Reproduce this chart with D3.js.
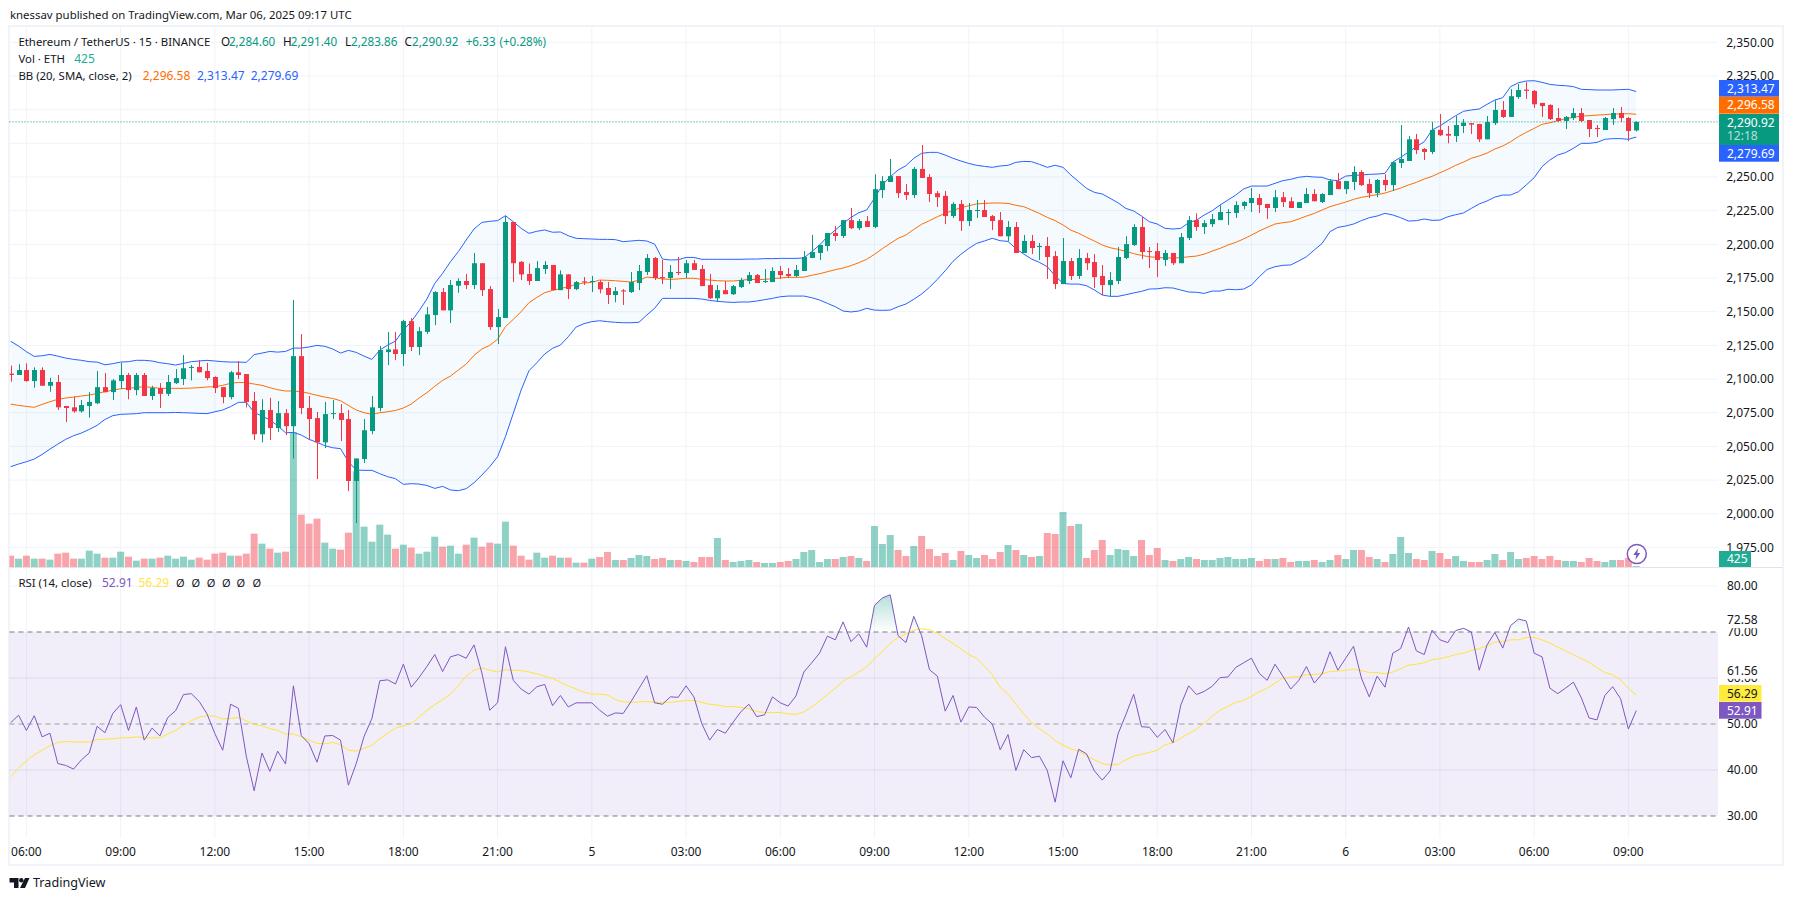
<!DOCTYPE html>
<html>
<head>
<meta charset="utf-8">
<style>
  html, body { margin: 0; padding: 0; background: #fff; }
  svg { display: block; }
  text { font-family: "Noto Sans", sans-serif; font-size: 12px; fill: #131722; }
</style>
</head>
<body>
<div id="chart"></div>
<script src="https://cdn.jsdelivr.net/npm/d3@7"></script>
<script>
// ---- DATA (15 minute bars) ----
const opens = [
  2104,2103,2106.7,2098.5,2106.7,2095,2097.8,2080,2079,2076,
  2080,2082,2094,2090.3,2098.5,2103,2091.8,2103,2087.4,2093.3,
  2089,2097,2100,2108.7,2109,2106,2101.5,2094,2086.6,2105,
  2103.7,2083.7,2059,2077,2063.6,2074.7,2065,2117,2078.5,2071,
  2053,2074,2074.7,2070.3,2024.3,2040.6,2061.4,2078.5,2120,2122,
  2118.6,2143,2123.8,2135,2147.5,2164.6,2151,2169.3,2172.8,2169.8,
  2186,2166.8,2138.6,2145.3,2216.6,2187,2178,2172.8,2181.7,2184.7,
  2166,2177.7,2166.8,2172.5,2172,2172,2167.6,2162.4,2165.8,2164.6,
  2171.3,2179.5,2189.9,2175.7,2175,2179.5,2178.7,2186,2181.7,2169.8,
  2160,2166,2163,2168.3,2172.8,2177.2,2172,2172,2180.2,2178,
  2176.5,2180.2,2189.9,2193.6,2198.8,2208.4,2206.2,2218,2212,2217.3,
  2212.9,2240.3,2246.3,2250.7,2238.9,2236.6,2256,2250,2238,2236,
  2221,2230,2217.3,2224.8,2225.5,2221,2218,2206,2212.9,2193.6,
  2202.5,2198,2198.8,2191.3,2170.5,2187.6,2176.5,2189.9,2186.9,2176.5,
  2169.8,2172.8,2189.9,2199.5,2212.9,2195,2195,2188.4,2193.6,2186,
  2204.7,2218,2212.9,2215,2218,2223.3,2223.3,2228.5,2230.7,2234.4,
  2230,2227,2235,2232,2227,2230.7,2237.4,2231.4,2236.6,2247,
  2241,2246.3,2253.7,2244.8,2238,2247.8,2244,2260.4,2261.9,2278,
  2270.8,2268.6,2285,2282,2280.4,2287.9,2290,2289.4,2278,2290,
  2299.8,2294.6,2309.4,2314.9,2313.9,2305,2303.5,2293.8,2291.6,2293.8,
  2297.5,2292.3,2286.4,2284.9,2293,2297.5,2293.8,2284.6
];
const closes = [
  2103,2106.7,2098.5,2106.7,2095,2097.8,2079,2078.5,2076,2080.7,
  2083,2094,2090.3,2099,2103,2091.8,2103,2087.4,2093.3,2089,
  2097.8,2100.7,2108,2109,2105,2100.7,2093.3,2086.6,2105,2103,
  2083,2059,2077,2063.6,2074.7,2065,2117,2078.5,2070.3,2053,
  2074,2074.7,2069.6,2024.3,2041,2062,2079,2121.5,2122,2118.6,
  2143,2123.8,2135.6,2148,2164.6,2151,2169.8,2172.8,2169.8,2186,
  2166,2138.6,2146,2216.6,2186,2177.7,2172.8,2182.4,2184.7,2166,
  2177.7,2166.8,2172,2171.8,2172.8,2166.6,2162.4,2165.3,2165,2172,
  2180.2,2189.9,2175,2174.8,2179.5,2178.7,2186,2181,2169,2160,
  2166,2163,2169,2173.5,2177.2,2171.3,2172.8,2180.2,2177.2,2176.5,
  2181,2190.6,2194.3,2199.5,2208.4,2206.2,2218,2212,2217.3,2212.9,
  2241,2247,2250.7,2238,2236.6,2256,2249.3,2237.4,2235,2221,
  2230,2217.3,2225.5,2225.5,2220.3,2217.3,2206,2212.9,2193.6,2202.5,
  2197.3,2198.8,2190.6,2170.5,2187.6,2176.5,2189.9,2186,2175.7,2169.8,
  2173.5,2190.6,2200.2,2212.9,2194.3,2194.3,2188.4,2193.6,2186,2205.4,
  2218,2212.9,2215.8,2218.8,2224,2224,2229.2,2231.4,2234.4,2229.2,
  2227,2235,2231.4,2227,2231.4,2237.4,2232,2237.4,2247,2241,
  2247,2253.7,2244,2238,2247.8,2244,2261,2263.4,2278,2270,
  2268.6,2285,2281,2280.7,2288.6,2290.3,2288.9,2278,2290.8,2299.8,
  2294.6,2310,2314.6,2314,2304,2302.7,2293,2291.6,2294.6,2297.5,
  2291.6,2285.6,2285.6,2293.8,2297.5,2293.8,2284.2,2290.92
];
const highs = [
  2110,2111,2111.6,2108.7,2108.7,2101,2103,2080,2087,2084.4,
  2090.3,2106,2104.5,2100,2112,2104.5,2104.5,2104.5,2095,2097,
  2103,2107.4,2117.8,2110.4,2114,2112,2102,2094,2106,2113.4,
  2103.7,2090.3,2085,2086,2083.7,2077.7,2158.7,2133.4,2087.4,2075.5,
  2083,2084.4,2081.4,2077,2041,2070.3,2087.4,2124.5,2135,2135,
  2144,2145.3,2138.6,2153.5,2165.3,2167.6,2173.5,2174.8,2178,2193.6,
  2186,2169,2152,2221,2216.6,2187.6,2185.8,2187.6,2187.6,2184.7,
  2180.7,2178,2172.8,2175.7,2176.5,2173.5,2172,2168.3,2166.8,2179.5,
  2184.7,2192.8,2190.6,2188.4,2184.7,2190.6,2188.4,2188.4,2184.7,2178,
  2169.8,2172.8,2169.8,2175,2179.5,2178,2181.7,2183,2184,2182.4,
  2184.7,2195,2207,2199.5,2208.4,2213.6,2218,2227,2218.8,2221,
  2252,2250.7,2263.4,2250.7,2244.8,2257.4,2273.8,2252.2,2239.6,2239.6,
  2231.4,2233,2230.7,2233,2233,2221.8,2224,2217.3,2216.6,2207,
  2207,2201,2205.4,2195,2204.7,2189.9,2196.5,2193.6,2192.8,2184.7,
  2179.5,2198,2206,2215,2220.3,2198,2201,2195.8,2193.6,2208.4,
  2221,2223,2218,2222.5,2229,2226.2,2232,2232.2,2241.8,2237.4,
  2230,2240.3,2238.9,2235,2231.4,2241.8,2241,2238,2248.5,2253,
  2247,2258,2255,2248.5,2248.5,2252,2261,2288.6,2280.4,2282,
  2271.5,2290.8,2296.8,2287.9,2295.3,2293,2290,2289.4,2295.3,2307,
  2306.4,2315.3,2319,2320.5,2314.6,2305,2304,2301.2,2295.3,2301.2,
  2301.2,2292.3,2288.6,2294.6,2301.2,2302,2294.6,2291.4
];
const lows = [
  2098,2103,2098,2093.6,2095,2090.6,2077,2068,2075,2075,
  2071.3,2081.4,2090,2084.4,2092.6,2085,2088,2087.4,2084.4,2078.5,
  2087.4,2096.3,2095.5,2099,2105,2099,2089.6,2082,2085,2100,
  2079,2054.7,2053,2054.7,2060.6,2058.4,2041,2074,2054.7,2025.7,
  2048.8,2070.3,2054,2016.8,1993,2037.6,2059,2076,2110.4,2114,
  2109.7,2120.8,2117.8,2133.4,2140,2151,2141.6,2164,2166.8,2166.8,
  2161.6,2136.4,2126,2145.3,2172,2173.5,2169.8,2172.8,2178,2166,
  2166,2159.4,2166,2169.8,2164.6,2163.6,2155.7,2157,2155,2163.9,
  2166,2177.2,2173.5,2170.5,2166.8,2177.2,2175,2181,2169,2159.4,
  2157.2,2163,2162.4,2167.6,2170.5,2171.3,2171.3,2172,2174.3,2175,
  2175.7,2180.2,2189.9,2188.4,2195,2202.5,2204.7,2211.4,2210.6,2212.9,
  2212,2234.4,2246.3,2234.4,2233,2234.4,2249.3,2231.4,2227.7,2215,
  2219.6,2210,2213.6,2219.6,2220.3,2210.6,2206,2202.5,2193.6,2193.6,
  2192.8,2188.4,2174.3,2166.8,2170.5,2173.5,2174.3,2181,2167.6,2162.4,
  2161.6,2170.5,2189,2198.8,2189,2182.4,2175.7,2184,2184.7,2186,
  2203.2,2210,2207.7,2212.9,2218,2214.4,2219.6,2226,2224,2223.3,
  2218.8,2224,2227.7,2227,2227,2230.7,2232,2230.7,2236.6,2241,
  2237.4,2240.3,2243.3,2234.4,2235,2239.6,2239.6,2256.7,2261.9,2267,
  2262.6,2267,2280.4,2275,2276,2282.7,2282,2276,2278,2288.6,
  2293.8,2294.6,2308,2308,2301.2,2294.6,2292.3,2290.8,2285.6,2292.3,
  2290.8,2279.7,2279.7,2284.9,2288.6,2290.8,2276.7,2283.86
];
const volumes = [
  4790,3530,4790,3530,3530,3100,5640,6060,3530,3530,
  6910,5640,3950,3950,6490,4370,2680,3530,3530,3950,
  4790,3530,4370,3100,3950,3100,5640,6060,4790,4790,
  5640,14100,9870,7760,6060,6490,57100,22140,18330,20450,
  10290,7760,7330,14520,40470,17060,10720,17910,13680,7760,
  9450,8180,5640,6490,12830,8600,9020,5640,9450,12410,
  8600,10290,9870,19180,9020,4790,3100,6060,3950,4790,
  3950,3950,1830,1830,3530,4230,6350,2960,2960,3810,
  5080,4650,3380,3810,2960,2960,2540,2110,4230,4230,
  12270,2960,2110,2540,2960,2110,1700,1700,2110,2540,
  3380,6350,7190,2110,3380,3380,4230,4650,3810,2540,
  17340,9730,13540,7190,4650,8880,13110,7610,4650,5920,
  2960,6770,5080,3810,5080,3380,6350,9310,7190,5080,
  4230,4650,14380,13960,23270,17340,18190,3810,7190,11420,
  5080,7610,7190,4650,11420,5080,8040,2960,2540,3380,
  4230,3380,2960,2960,3810,4230,3380,3380,3810,2540,
  3380,3380,3810,2110,2540,2540,2960,2110,2960,5080,
  3380,7190,7190,4230,3380,2110,5500,12690,5920,3380,
  2960,6770,5920,3380,4650,2540,2110,2110,2960,5500,
  2960,6350,3380,3810,4650,3380,4650,2960,2540,2540,
  2110,3810,2540,2110,2960,2960,3810,425
];
const bbUpper = [
  2128,2124.5,2120.3,2116.8,2117.3,2118.3,2117,2115.6,2114.6,2113.9,
  2112.9,2112.6,2110.6,2111.4,2112.6,2112.9,2113.9,2113.9,2113.4,2112.1,
  2111.4,2110.4,2111.6,2112.9,2113.4,2113.9,2113.4,2112.9,2112.6,2112.6,
  2112.4,2118.1,2119.3,2120.5,2120,2120.5,2123,2123,2123.8,2125,
  2124.3,2122.3,2119.3,2121.3,2119.8,2117,2114.6,2121.5,2125.2,2128.2,
  2136.4,2142.6,2150.7,2159.4,2171,2178.5,2187.1,2194.6,2203.2,2211.4,
  2216.3,2217.1,2217.6,2221.3,2216.8,2211.9,2208.2,2209.7,2210.7,2209,
  2209.2,2206.4,2204.5,2204.2,2204,2203.7,2203.7,2203.5,2202,2202.5,
  2203,2202.5,2200.2,2189.1,2188.4,2188.6,2190.3,2190.3,2188.9,2188.9,
  2188.9,2188.9,2188.9,2188.9,2189.1,2189.1,2189.4,2189.4,2189.6,2189.6,
  2189.6,2189.9,2194.6,2199.5,2205.7,2210.6,2215.6,2220,2223.5,2225.5,
  2234.2,2244.1,2250.2,2255.2,2258.4,2263.9,2267.6,2268.3,2268.3,2266.3,
  2263.9,2261.9,2260.1,2258.7,2257.9,2257.2,2258.2,2258.7,2260.9,2261.6,
  2261.4,2259.4,2257.2,2258.7,2257.2,2251.5,2246.5,2241.6,2238.6,2237.4,
  2234.2,2230.9,2226.7,2224.8,2221,2216.8,2215.1,2211.9,2211.4,2211.9,
  2216.1,2218,2221.8,2225,2229.2,2232.9,2236.6,2241.1,2243.3,2243.3,
  2243.3,2245.3,2247.3,2248.3,2249.8,2250.5,2250,2249.8,2247.8,2247.3,
  2250.7,2251.2,2251.5,2252,2252.2,2252.7,2261.1,2264.6,2268.6,2272.5,
  2276.2,2284.9,2287.9,2291.8,2295.5,2298.8,2299.8,2300.5,2304,2307.2,
  2308.9,2317.1,2320,2321.3,2321.5,2320.3,2318.8,2318.1,2317.8,2317.1,
  2315.1,2314.9,2314.6,2314.6,2314.6,2314.9,2315.1,2313.47
];
const bbMiddle = [
  2081.4,2080.4,2079.7,2079,2081.2,2083.2,2084.9,2085.9,2086.6,2087.4,
  2088.1,2089.4,2090.6,2091.8,2092.8,2093.1,2093.8,2094.3,2093.8,2093.1,
  2093.1,2093.1,2093.1,2093.3,2093.6,2094.1,2094.3,2095.3,2096.8,2097.5,
  2097.3,2096.3,2095.3,2093.6,2092.1,2091.1,2091.1,2090.6,2089.4,2087.9,
  2086.6,2085.6,2083.9,2080.4,2077,2075,2073.8,2075,2075.7,2076.7,
  2078.5,2081.4,2085.9,2089.9,2094.6,2099,2102.2,2106.7,2111.1,2117.6,
  2122.3,2125,2129.5,2138.9,2144.3,2150,2156.7,2160.6,2164.1,2165.8,
  2167.1,2168.6,2170.3,2171.3,2171.8,2173.5,2173.3,2173,2172.5,2172,
  2173.3,2175.7,2175.2,2174.3,2174,2174.3,2174.8,2174.8,2174,2173.5,
  2173,2172.8,2172.8,2173.3,2174,2173.8,2174,2174.5,2175,2175.5,
  2175.5,2175.7,2177,2178.2,2179.7,2181.2,2182.4,2184.2,2186.4,2188.9,
  2192.6,2196.8,2200.7,2204.5,2206.9,2211.1,2214.9,2217.6,2220.5,2223,
  2225.2,2227.2,2228.7,2230,2230.4,2230.7,2230.7,2230.4,2229,2228,
  2225.5,2223,2220,2217.6,2214.4,2210.6,2208.2,2205.2,2202.5,2199.5,
  2197.5,2196.3,2194.8,2193.1,2191.8,2190.8,2190.3,2189.9,2189.9,2190.1,
  2190.8,2191.3,2192.8,2195,2197,2199.5,2201.5,2204,2206.9,2209.9,
  2212.6,2215.1,2216.1,2216.8,2218.8,2221,2223,2225.5,2228,2229.7,
  2231.4,2233.4,2234.9,2235.9,2236.9,2238.1,2239.9,2241.8,2244.1,2246,
  2248.5,2250.5,2253.2,2255.7,2258.7,2261.1,2263.9,2265.6,2267.8,2270.8,
  2273,2276.2,2280,2283.2,2286.1,2289.1,2290.3,2291.8,2293.3,2294.3,
  2295.3,2295.5,2296,2296.3,2296.8,2296.8,2297,2296.58
];
const bbLower = [
  2034.9,2036.9,2038.6,2040.6,2044,2048,2051.7,2055.2,2057.9,2059.9,
  2062.6,2065.6,2070,2072.8,2073.8,2074,2074.3,2075,2075,2075,
  2075,2075.2,2075,2074.8,2074.5,2074.3,2075.7,2077,2079.5,2082.7,
  2082.7,2075.2,2072.5,2069.6,2065.3,2060.1,2060.4,2058.4,2055.2,2053,
  2050.5,2049,2048.3,2038.6,2032.4,2032.2,2032.2,2029.7,2027.5,2026,
  2021.8,2022.3,2022,2021,2018.8,2020.3,2017.6,2017.1,2018.6,2023,
  2028.7,2034.9,2042.3,2057.2,2074.5,2091.8,2106.2,2112.1,2118.6,2122.8,
  2125.2,2131.4,2138.6,2141.1,2142.6,2143.3,2142.6,2142.1,2141.8,2141.8,
  2142.1,2147.5,2152.5,2159.9,2159.9,2159.9,2159.9,2159.9,2159.4,2158.4,
  2157.7,2157.2,2156.9,2157.2,2157.2,2157.9,2158.9,2159.9,2161.1,2161.6,
  2161.6,2161.6,2160.4,2158.7,2156.2,2153.7,2150.5,2149.8,2150.5,2152.5,
  2151.2,2151,2151.2,2153.7,2155.7,2159.2,2163.1,2168.1,2174,2180.4,
  2187.4,2192.6,2197,2200.7,2202.5,2204.5,2202.7,2202.2,2196.8,2192.8,
  2189.1,2186.6,2183.4,2176.5,2171,2170.5,2170.5,2169.3,2166.1,2162.4,
  2161.4,2161.4,2162.6,2163.9,2165.1,2166.8,2167,2167.8,2167.6,2166.1,
  2164.6,2164.4,2163.6,2165.3,2165.3,2166.6,2166.3,2166.8,2169.8,2176,
  2181.4,2183.4,2184.4,2184.7,2187.6,2190.8,2195.8,2200.7,2209.4,2212.6,
  2213.6,2215.1,2217.6,2219.8,2221,2223,2221.8,2219.8,2217.3,2217.6,
  2218.8,2217.8,2218,2220.5,2222,2223.3,2226.7,2230,2232.2,2235.1,
  2236.6,2236.6,2239.1,2244.1,2249.5,2257.7,2262.6,2266.3,2268.1,2271.3,
  2275,2275,2275.7,2278,2278.5,2278.5,2278,2279.69
];
const rsiValues = [
  50.3,51.9,48.6,51.8,47.2,48,41.4,41,40.2,42.2,
  43.7,49.5,48.1,52.3,54.2,48.6,53.7,46.5,49.1,47.4,
  51.4,52.9,56.4,56.6,54.9,52.2,47.9,44.3,54.3,53.4,
  43,35.5,43.7,39.7,44.1,41.3,58.3,47.5,45.7,41.7,
  47.4,47.5,46.5,36.7,41.4,47.3,51.2,59.4,59.6,58.7,
  63,58,60.1,62.5,65.1,61.4,64.6,65.1,64.3,67.2,
  61.1,53,54.6,66.8,59.5,57.6,56.5,58.1,58.6,54,
  56.2,53.7,54.6,54.6,54.6,53,51.7,52.4,52.3,54.9,
  57.7,60.5,54.6,54.3,55.9,55.8,58.3,55.9,50.1,46.5,
  48.8,48,50.4,52.7,54.3,51.6,52,55.9,54.6,53.9,
  56.1,61.3,63.3,65.4,69.1,68.3,72.2,67.9,69.6,66.7,
  75.8,77.4,78.1,69.2,67.7,73.4,69.2,61.8,60.4,52.8,
  56.2,50.4,53.7,53.6,51.5,50,44.4,47.7,39.9,44.4,
  42.7,43,39.9,33,42,38.3,44.5,43.5,39.8,37.8,
  39.8,47.8,52,56.5,49.4,49.3,47.1,48.8,45.9,54.1,
  58.3,56.4,57.1,58.2,60.1,60.2,62.3,63.3,64.3,61,
  59.5,63,60.4,57.6,59.4,62.5,58.9,60.9,65.7,61.7,
  64.3,66.9,60,55.9,60.4,58,65.4,66.4,71.1,65.9,
  65.1,70.4,68.3,67.7,70.3,70.8,70,61.7,67.2,69.9,
  66.5,71.4,72.8,72.4,65.4,64.6,57.8,56.6,57.8,59.1,
  55.7,51.3,50.9,56.2,58.1,55.5,48.9,52.91
];
const rsiMa = [
  38.5,40.4,42,43.3,44.3,45.3,46,46.2,46.1,46.1,
  46.1,46.6,46.7,46.8,47,47,47.2,47,47,47,
  47.8,48.6,49.7,50.7,51.5,51.8,51.7,51.1,51.2,51.4,
  50.7,49.9,49.6,49,48.6,47.8,47.8,47.2,46.5,45.8,
  45.7,46,45.5,44.3,44.1,44.7,45.4,46.8,48,49.1,
  49.6,50.1,51.5,53,54.2,55.3,56.5,58.3,60.4,61.7,
  62.2,61.7,61.3,61.8,61.7,61.6,61.3,60.9,60.4,59.9,
  59.1,58.3,57.6,56.9,56.5,56.5,56.3,55.3,54.8,54.7,
  54.8,54.9,54.7,54.7,54.7,54.9,55.1,55.1,54.7,54.3,
  54.1,53.8,53.8,53.6,53.3,52.7,52.5,52.5,52.5,52.2,
  52.1,52.6,53.7,55,56.4,57.8,59.3,60.3,61.3,62.4,
  64.2,65.8,67.5,68.8,69.6,70.4,70.7,70.5,69.7,68.6,
  67.5,66.3,65.1,64.3,62.6,60.7,58,56.5,54.3,52.2,
  50.3,49,47.8,46.4,45.4,44.6,44.1,43.1,42.2,41.4,
  41.1,41.2,42.2,43,43.4,43.8,44.3,45.5,45.9,46.9,
  47.9,48.9,50.2,51.7,53,53.8,54.7,55.1,56,57,
  57.8,58.9,60,60.2,60.3,60.7,60.8,60.9,61.4,61.5,
  61.7,61.9,61.6,61.2,61.2,60.9,61.3,62,62.8,63,
  63.3,64,64.2,64.6,65.1,65.4,66,66.4,67,67.8,
  67.9,68.3,68.3,68.8,68.8,68.3,67.6,66.7,65.9,65.1,
  64.2,63.4,62.2,61.2,60.7,59.6,57.8,56.29
];
const priceTicks = [1975,2000,2025,2050,2075,2100,2125,2150,2175,2200,2225,2250,2275,2300,2325,2350];
// these two tick labels sit fully behind the last-value badges
const coveredPriceLabels = [2275,2300];
const rsiTicks = [30,40,50,60,70,80];
const rsiBands = [30,50,70];
const timeTickBars = [2,14,26,38,50,62,74,86,98,110,122,134,146,158,170,182,194,206];
const timeTickLabels = ["06:00","09:00","12:00","15:00","18:00","21:00","5","03:00","06:00","09:00","12:00","15:00","18:00","21:00","6","03:00","06:00","09:00"];
const priceBadges = [
  { value: 2313.47, color: "#2962ff", text: "#fff", y0: 80, y1: 96.7 },
  { value: 2296.58, color: "#ff6d00", text: "#fff", y0: 96.7, y1: 113.7 },
  { value: 2279.69, color: "#2962ff", text: "#fff", y0: 145, y1: 161.7 }
];

// ---- LAYOUT ----
const width = 1794, height = 901;
const paneLeft = 9.5, paneRight = 1718;
const axisX = 1773.8, axisStart = 1727;
const UP = "#089981", DOWN = "#f23645", GRID = "#f0f3fa", TEXT = "#131722";
const BLUE = "#2962ff", ORANGE = "#ff6d00", PURPLE = "#7e57c2", YELLOW = "#ffe53b";

const bars = closes.map((c, i) => ({
  i, o: opens[i], h: highs[i], l: lows[i], c, v: volumes[i],
  up: bbUpper[i], mid: bbMiddle[i], lo: bbLower[i], rsi: rsiValues[i], ma: rsiMa[i]
}));

const x = d3.scaleLinear().domain([0, 206]).range([10.7, 1628.4]);
const y = d3.scaleLinear().domain([1975, 2325]).range([547.4, 76]);
const yVol = d3.scaleLinear().domain([0, 57100]).range([567, 432]);
const yRsi = d3.scaleLinear().domain([30, 80]).range([816, 586]);
const fmt = d3.format(",.2f");

const svg = d3.select("#chart").append("svg").attr("width", width).attr("height", height);
const defs = svg.append("defs");
defs.append("clipPath").attr("id", "main-clip").append("rect")
  .attr("x", paneLeft).attr("y", 27).attr("width", paneRight - paneLeft).attr("height", 540.5);
defs.append("clipPath").attr("id", "ob-clip").append("rect")
  .attr("x", paneLeft).attr("y", 569).attr("width", paneRight - paneLeft).attr("height", yRsi(70) - 569);
const obGrad = defs.append("linearGradient").attr("id", "ob-grad")
  .attr("gradientUnits", "userSpaceOnUse").attr("x1", 0).attr("x2", 0).attr("y1", yRsi(78)).attr("y2", yRsi(70));
obGrad.append("stop").attr("offset", 0).attr("stop-color", UP).attr("stop-opacity", 0.3);
obGrad.append("stop").attr("offset", 1).attr("stop-color", UP).attr("stop-opacity", 0);

function label(parent, tx, ty, str, opts = {}) {
  return parent.append("text")
    .attr("x", tx).attr("y", ty).attr("dy", "0.35em")
    .attr("text-anchor", opts.anchor || "start")
    .style("fill", opts.color || TEXT)
    .style("font-size", (opts.size || 12) + "px")
    .text(str);
}

// ---- FRAME ----
svg.append("rect").attr("x", 9).attr("y", 26).attr("width", 1774).attr("height", 839)
  .attr("fill", "#fff").attr("stroke", GRID).attr("stroke-width", 2);

// ---- GRID ----
const grid = svg.append("g").attr("stroke", GRID).attr("stroke-width", 1);
grid.selectAll(".vgrid").data(timeTickBars).enter().append("line")
  .attr("x1", d => x(d)).attr("x2", d => x(d)).attr("y1", 27).attr("y2", 838);
grid.selectAll(".hgrid").data(priceTicks).enter().append("line")
  .attr("x1", paneLeft).attr("x2", paneRight).attr("y1", d => y(d)).attr("y2", d => y(d));
grid.append("line").attr("x1", paneLeft).attr("x2", paneRight).attr("y1", yRsi(80)).attr("y2", yRsi(80));

// ---- BOLLINGER BANDS ----
const main = svg.append("g").attr("clip-path", "url(#main-clip)");
const bbArea = d3.area().x(d => x(d.i)).y0(d => y(d.lo)).y1(d => y(d.up));
main.append("path").datum(bars).attr("d", bbArea).attr("fill", "#2196f3").attr("fill-opacity", 0.05);

// ---- VOLUME ----
main.selectAll(".vol").data(bars).enter().append("rect")
  .attr("x", d => x(d.i) - 3.5).attr("width", 7)
  .attr("y", d => yVol(d.v)).attr("height", d => yVol(0) - yVol(d.v))
  .attr("fill", d => d.c >= d.o ? UP : DOWN).attr("fill-opacity", 0.45);

const lineOf = key => d3.line().x(d => x(d.i)).y(d => y(d[key]));
main.append("path").datum(bars).attr("d", lineOf("up")).attr("fill", "none").attr("stroke", BLUE).attr("stroke-width", 1);
main.append("path").datum(bars).attr("d", lineOf("lo")).attr("fill", "none").attr("stroke", BLUE).attr("stroke-width", 1);
main.append("path").datum(bars).attr("d", lineOf("mid")).attr("fill", "none").attr("stroke", ORANGE).attr("stroke-width", 1);

// ---- CANDLES ----
main.selectAll(".wick").data(bars).enter().append("line")
  .attr("x1", d => Math.round(x(d.i)) + 0.5).attr("x2", d => Math.round(x(d.i)) + 0.5)
  .attr("y1", d => y(d.h)).attr("y2", d => y(d.l))
  .attr("stroke", d => d.c >= d.o ? UP : DOWN).attr("stroke-width", 1);
main.selectAll(".body").data(bars).enter().append("rect")
  .attr("x", d => Math.round(x(d.i)) - 2).attr("width", 5)
  .attr("y", d => y(Math.max(d.o, d.c)))
  .attr("height", d => Math.max(1, Math.abs(y(d.o) - y(d.c))))
  .attr("fill", d => d.c >= d.o ? UP : DOWN);

// current price line
svg.append("line").attr("x1", paneLeft).attr("x2", paneRight)
  .attr("y1", y(2290.92)).attr("y2", y(2290.92))
  .attr("stroke", UP).attr("stroke-width", 1).attr("stroke-dasharray", "1 2");

// pane separator
svg.append("line").attr("x1", paneLeft).attr("x2", 1783).attr("y1", 567.5).attr("y2", 567.5)
  .attr("stroke", "#e0e3eb").attr("stroke-width", 1);

// ---- RSI PANE ----
svg.append("rect").attr("x", paneLeft).attr("width", paneRight - paneLeft)
  .attr("y", yRsi(70)).attr("height", yRsi(30) - yRsi(70))
  .attr("fill", PURPLE).attr("fill-opacity", 0.1);
svg.selectAll(".rsigrid").data([40, 60]).enter().append("line")
  .attr("x1", paneLeft).attr("x2", paneRight).attr("y1", d => yRsi(d)).attr("y2", d => yRsi(d))
  .attr("stroke", PURPLE).attr("stroke-opacity", 0.15);
svg.selectAll(".band").data(rsiBands).enter().append("line")
  .attr("x1", paneLeft).attr("x2", paneRight).attr("y1", d => yRsi(d)).attr("y2", d => yRsi(d))
  .attr("stroke", "#787b86").attr("stroke-width", 1).attr("stroke-dasharray", "5 4")
  .attr("stroke-opacity", d => d === 50 ? 0.7 : 1);

const obArea = d3.area().x(d => x(d.i)).y0(yRsi(70)).y1(d => yRsi(d.rsi));
svg.append("path").datum(bars).attr("d", obArea).attr("clip-path", "url(#ob-clip)").attr("fill", "url(#ob-grad)");

const rsiLine = d3.line().x(d => x(d.i)).y(d => yRsi(d.rsi));
const maLine = d3.line().x(d => x(d.i)).y(d => yRsi(d.ma));
svg.append("path").datum(bars).attr("d", maLine).attr("fill", "none").attr("stroke", YELLOW).attr("stroke-width", 1);
svg.append("path").datum(bars).attr("d", rsiLine).attr("fill", "none").attr("stroke", PURPLE).attr("stroke-width", 1);

// ---- AXES ----
priceTicks.filter(p => !coveredPriceLabels.includes(p))
  .forEach(p => label(svg, axisX, y(p), fmt(p), { anchor: "end" }));
rsiTicks.forEach(r => label(svg, axisStart, yRsi(r), r.toFixed(2)));
timeTickBars.forEach((b, i) => label(svg, x(b), 851.5, timeTickLabels[i], { anchor: "middle" }));

// extra RSI scale labels sit on top of the ticks under them
[72.58, 61.56].forEach(r => {
  svg.append("rect").attr("x", 1719).attr("y", yRsi(r) - 8).attr("width", 50).attr("height", 16).attr("fill", "#fff");
  label(svg, axisStart, yRsi(r), r.toFixed(2));
});

// ---- BADGES ----
function badge(y0, y1, x1, color, str, textColor) {
  svg.append("rect").attr("x", 1719).attr("y", y0).attr("width", x1 - 1719).attr("height", y1 - y0).attr("fill", color);
  label(svg, axisStart, (y0 + y1) / 2, str, { color: textColor });
}
svg.append("rect").attr("x", 1719).attr("y", 114).attr("width", 60).attr("height", 31).attr("fill", UP);
label(svg, axisStart, 122.5, fmt(2290.92), { color: "#fff" });
label(svg, axisStart, 136, "12:18", { color: "#fff" }).style("opacity", 0.7);
priceBadges.forEach(b => badge(b.y0, b.y1, 1779, b.color, fmt(b.value), b.text));
badge(551, 567, 1751, "#22ab94", "425", "#fff");
badge(685, 701.7, 1761.5, "#ffeb3b", "56.29", TEXT);
badge(702, 718.7, 1761.5, PURPLE, "52.91", "#fff");

// ---- LEGENDS ----
const small = 11.4;
label(svg, 10, 14.7, "knessav published on TradingView.com, Mar 06, 2025 09:17 UTC", { size: small });
label(svg, 18.4, 41.7, "Ethereum / TetherUS · 15 · BINANCE", { size: small });
const legendRow = [
  [221, "O", TEXT], [228.9, "2,284.60", UP], [283, "H", TEXT], [290.8, "2,291.40", UP],
  [345, "L", TEXT], [351, "2,283.86", UP], [404.5, "C", TEXT], [412, "2,290.92", UP],
  [465.7, "+6.33", UP], [499.4, "(+0.28%)", UP]
];
legendRow.forEach(d => label(svg, d[0], 41.7, d[1], { color: d[2], size: 11.7 }));
label(svg, 18.4, 58.7, "Vol · ETH", { size: small });
label(svg, 74.2, 58.7, "425", { color: "#22ab94" });
label(svg, 18.4, 75.7, "BB (20, SMA, close, 2)", { size: small });
label(svg, 142.7, 75.7, "2,296.58", { color: ORANGE });
label(svg, 197, 75.7, "2,313.47", { color: BLUE });
label(svg, 250.7, 75.7, "2,279.69", { color: BLUE });
label(svg, 18.4, 582.7, "RSI (14, close)", { size: small });
label(svg, 102, 582.7, "52.91", { color: PURPLE });
label(svg, 138.5, 582.7, "56.29", { color: YELLOW });
[176, 191.4, 206.7, 222, 236.5, 252.6].forEach(nx => label(svg, nx, 582.7, "Ø", { size: 11 }));

// ---- LIGHTNING ICON ----
const icon = svg.append("g").attr("transform", "translate(1636.8,554)");
icon.append("circle").attr("r", 9.5).attr("fill", "#fff").attr("stroke", PURPLE).attr("stroke-width", 1.5);
icon.append("path").attr("d", "M1.5,-6 L-3.5,1 L-0.5,1 L-1.5,6 L3.5,-1 L0.5,-1 Z").attr("fill", PURPLE);

// ---- LOGO ----
const logo = svg.append("g").attr("transform", "translate(9.5,878)").attr("fill", TEXT);
logo.append("path").attr("d", "M0,0 H9 V10 H4.5 V4.5 H0 Z");
logo.append("circle").attr("cx", 11.8).attr("cy", 2.2).attr("r", 2.2);
logo.append("path").attr("d", "M15.5,0 H20 L15.5,10 H10.5 Z");
label(svg, 33, 883, "TradingView", { size: 12.6 });
</script>
</body>
</html>
